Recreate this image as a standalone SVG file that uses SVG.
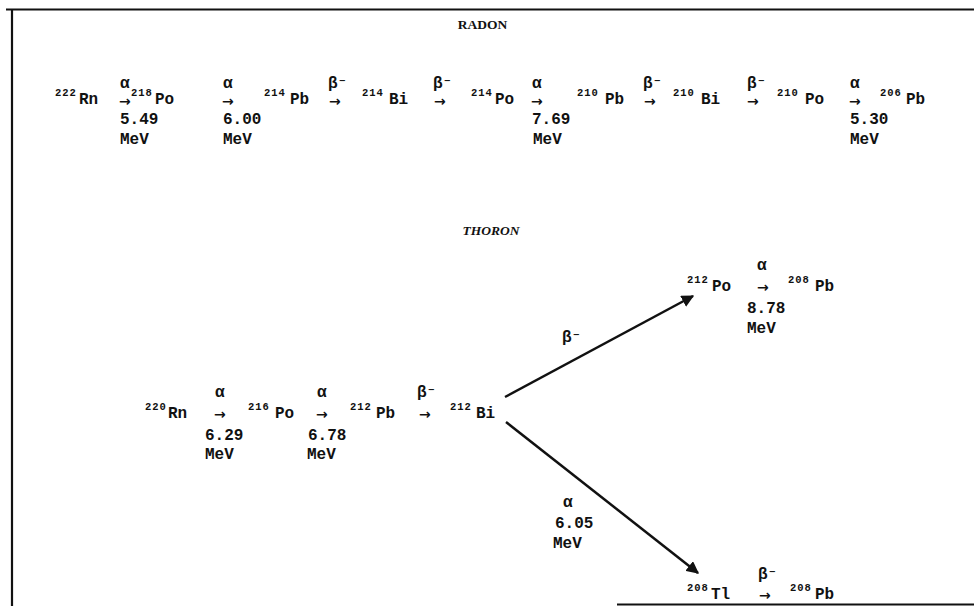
<svg xmlns="http://www.w3.org/2000/svg" width="974" height="606" viewBox="0 0 974 606">
<defs>
<style>
.t{font-family:"Liberation Mono","DejaVu Sans Mono",monospace;font-size:16px;font-weight:bold;fill:#111}
.s{font-family:"Liberation Mono","DejaVu Sans Mono",monospace;font-size:10.5px;font-weight:bold;letter-spacing:1px;fill:#111}
.a{font-family:"DejaVu Sans",sans-serif;font-size:14px;font-weight:bold;fill:#111}
.h{font-family:"Liberation Serif",serif;font-size:13.5px;font-weight:bold;fill:#111;text-anchor:middle}
.ln{stroke:#111;stroke-width:2.5;fill:none}
.fr{stroke:#111;stroke-width:2.2;fill:none}
</style>
<marker id="ah" viewBox="0 0 10 10" refX="9" refY="5" markerWidth="5" markerHeight="5" orient="auto" markerUnits="strokeWidth">
<path d="M0,0 L10,5 L0,10 z" fill="#111"/>
</marker>
</defs>
<rect width="974" height="606" fill="#fff"/>
<g id="frame">
<line class="fr" x1="6" y1="9.5" x2="974" y2="9.5"/>
<line class="fr" x1="12" y1="9" x2="12" y2="606"/>
<line class="fr" x1="617" y1="604.5" x2="974" y2="604.5"/>
</g>
<text class="h" x="482.5" y="29">RADON</text>
<text class="h" x="491" y="235" font-style="italic">THORON</text>

<g id="radon">
<g id="rn222"><text class="s" x="55" y="96">222</text><text class="t" x="79" y="104">Rn</text></g>
<g id="r1"><text class="t" x="120" y="88">α</text><text class="a" x="119" y="106">→</text><text class="t" x="120" y="124">5.49</text><text class="t" x="120" y="144">MeV</text></g>
<g id="po218"><text class="s" x="131" y="96">218</text><text class="t" x="155" y="104">Po</text></g>
<g id="r2"><text class="t" x="223" y="88">α</text><text class="a" x="222" y="106">→</text><text class="t" x="223" y="124">6.00</text><text class="t" x="223" y="144">MeV</text></g>
<g id="pb214"><text class="s" x="264" y="96">214</text><text class="t" x="290" y="104">Pb</text></g>
<g id="r3"><text class="t" x="328" y="88">β⁻</text><text class="a" x="329" y="106">→</text></g>
<g id="bi214"><text class="s" x="362" y="96">214</text><text class="t" x="389" y="104">Bi</text></g>
<g id="r4"><text class="t" x="433" y="88">β⁻</text><text class="a" x="434" y="106">→</text></g>
<g id="po214"><text class="s" x="471" y="96">214</text><text class="t" x="495" y="104">Po</text></g>
<g id="r5"><text class="t" x="532" y="88">α</text><text class="a" x="531" y="106">→</text><text class="t" x="532" y="124">7.69</text><text class="t" x="533" y="144">MeV</text></g>
<g id="pb210"><text class="s" x="577" y="96">210</text><text class="t" x="605" y="104">Pb</text></g>
<g id="r6"><text class="t" x="643" y="88">β⁻</text><text class="a" x="644" y="106">→</text></g>
<g id="bi210"><text class="s" x="673" y="96">210</text><text class="t" x="701" y="104">Bi</text></g>
<g id="r7"><text class="t" x="747" y="88">β⁻</text><text class="a" x="747" y="106">→</text></g>
<g id="po210"><text class="s" x="777" y="96">210</text><text class="t" x="805" y="104">Po</text></g>
<g id="r8"><text class="t" x="850" y="88">α</text><text class="a" x="849" y="106">→</text><text class="t" x="850" y="124">5.30</text><text class="t" x="850" y="144">MeV</text></g>
<g id="pb206"><text class="s" x="880" y="96">206</text><text class="t" x="906" y="104">Pb</text></g>
</g>

<g id="thoron">
<g id="rn220"><text class="s" x="145" y="410">220</text><text class="t" x="168" y="418">Rn</text></g>
<g id="t1"><text class="t" x="215" y="397">α</text><text class="a" x="214" y="419">→</text><text class="t" x="205" y="440">6.29</text><text class="t" x="205" y="459">MeV</text></g>
<g id="po216"><text class="s" x="248" y="410">216</text><text class="t" x="275" y="418">Po</text></g>
<g id="t2"><text class="t" x="317" y="397">α</text><text class="a" x="316" y="419">→</text><text class="t" x="308" y="440">6.78</text><text class="t" x="307" y="459">MeV</text></g>
<g id="pb212"><text class="s" x="350" y="410">212</text><text class="t" x="376" y="418">Pb</text></g>
<g id="t3"><text class="t" x="417" y="397">β⁻</text><text class="a" x="419" y="419">→</text></g>
<g id="bi212"><text class="s" x="450" y="410">212</text><text class="t" x="476" y="418">Bi</text></g>

<g id="po212"><text class="s" x="687" y="283">212</text><text class="t" x="712" y="291">Po</text></g>
<g id="t4"><text class="t" x="757" y="270">α</text><text class="a" x="757" y="292">→</text><text class="t" x="747" y="313">8.78</text><text class="t" x="747" y="333">MeV</text></g>
<g id="pb208a"><text class="s" x="788" y="283">208</text><text class="t" x="815" y="291">Pb</text></g>

<g id="tl208"><text class="s" x="687" y="591">208</text><text class="t" x="711" y="599">Tl</text></g>
<g id="t5"><text class="t" x="758" y="579">β⁻</text><text class="a" x="759" y="600">→</text></g>
<g id="pb208b"><text class="s" x="790" y="591">208</text><text class="t" x="815" y="599">Pb</text></g>
</g>

<g id="connectors">
<line class="ln" x1="505" y1="397" x2="693" y2="296" marker-end="url(#ah)"/>
<line class="ln" x1="506" y1="422" x2="698" y2="573" marker-end="url(#ah)"/>
<text class="t" x="562" y="342">β⁻</text>
<text class="t" x="563" y="507">α</text>
<text class="t" x="555" y="528">6.05</text>
<text class="t" x="553" y="548">MeV</text>
</g>
</svg>
